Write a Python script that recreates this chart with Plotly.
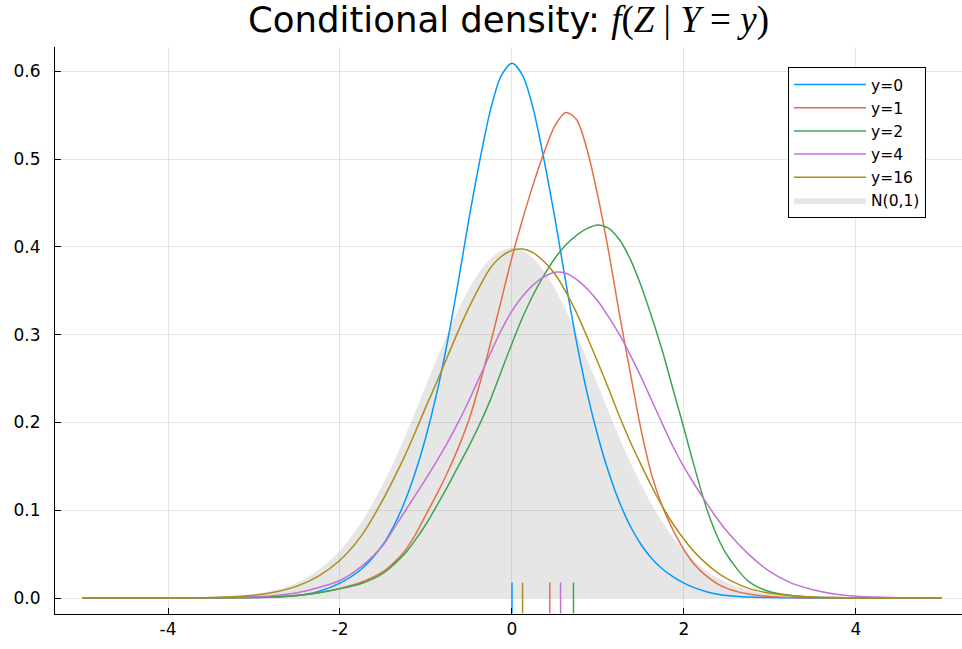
import plotly.graph_objects as go

# ---- data ----
z = [-5, -4.5, -4, -3.5, -3, -2.75, -2.5, -2.25, -2, -1.75,
     -1.5, -1.375, -1.25, -1.125, -1, -0.875, -0.75, -0.625, -0.5, -0.375,
     -0.25, -0.125, 0, 0.125, 0.25, 0.375, 0.5, 0.625, 0.75, 0.875,
     1, 1.125, 1.25, 1.375, 1.5, 1.625, 1.75, 1.875, 2, 2.125,
     2.25, 2.375, 2.5, 2.75, 3, 3.25, 3.5, 3.75, 4, 4.5, 5]

dens_y0 = [0, 0, 0.00002, 0.0001, 0.0005, 0.0011, 0.0028, 0.0075, 0.017, 0.033,
           0.061, 0.082, 0.109, 0.143, 0.184, 0.233, 0.292, 0.360, 0.432, 0.498,
           0.556, 0.595, 0.609, 0.595, 0.556, 0.498, 0.432, 0.360, 0.292, 0.233,
           0.184, 0.143, 0.109, 0.082, 0.061, 0.045, 0.033, 0.024, 0.017, 0.0115,
           0.0075, 0.0047, 0.0028, 0.0011, 0.0005, 0.0002, 0.0001, 0.00005, 0.00002, 0, 0]

dens_y1 = [0, 0, 0.00002, 0.0001, 0.0006, 0.0015, 0.003, 0.006, 0.011, 0.018,
           0.030, 0.040, 0.053, 0.072, 0.095, 0.118, 0.143, 0.171, 0.203, 0.244,
           0.290, 0.339, 0.388, 0.432, 0.472, 0.508, 0.538, 0.553, 0.545, 0.510,
           0.457, 0.394, 0.323, 0.257, 0.192, 0.140, 0.104, 0.077, 0.055, 0.038,
           0.026, 0.017, 0.011, 0.0045, 0.0018, 0.0007, 0.0003, 0.0001, 0.00003, 0, 0]

dens_y2 = [0, 0, 0.00002, 0.0001, 0.0006, 0.0014, 0.003, 0.006, 0.0105, 0.0165,
           0.028, 0.038, 0.050, 0.066, 0.084, 0.105, 0.127, 0.150, 0.173, 0.198,
           0.226, 0.258, 0.290, 0.320, 0.346, 0.368, 0.387, 0.402, 0.413, 0.421,
           0.425, 0.421, 0.408, 0.386, 0.356, 0.320, 0.281, 0.237, 0.193, 0.148,
           0.106, 0.073, 0.049, 0.019, 0.0072, 0.003, 0.0012, 0.0005, 0.0002, 0.00002, 0]

dens_y4 = [0, 0.00002, 0.0001, 0.0003, 0.0015, 0.003, 0.006, 0.012, 0.020, 0.036,
           0.060, 0.079, 0.098, 0.117, 0.136, 0.156, 0.177, 0.200, 0.225, 0.252,
           0.279, 0.305, 0.327, 0.344, 0.357, 0.366, 0.371, 0.370, 0.363, 0.352,
           0.338, 0.320, 0.300, 0.277, 0.252, 0.225, 0.198, 0.172, 0.149, 0.129,
           0.110, 0.092, 0.076, 0.050, 0.030, 0.017, 0.0095, 0.0045, 0.0019, 0.0004, 0.0001]

dens_y16 = [0, 0.00002, 0.0001, 0.0007, 0.0032, 0.0068, 0.0135, 0.025, 0.043, 0.071,
            0.112, 0.136, 0.161, 0.189, 0.218, 0.246, 0.275, 0.304, 0.331, 0.355,
            0.376, 0.389, 0.396, 0.3975, 0.393, 0.383, 0.369, 0.349, 0.325, 0.297,
            0.268, 0.238, 0.207, 0.178, 0.152, 0.127, 0.104, 0.084, 0.067, 0.052,
            0.040, 0.030, 0.022, 0.011, 0.0055, 0.0027, 0.0012, 0.0005, 0.0002, 0.00003, 0]

std_normal = [0, 0.000016, 0.000134, 0.00087, 0.0044, 0.0091, 0.0175, 0.0317, 0.054, 0.0863,
              0.1295, 0.1549, 0.1826, 0.2119, 0.2420, 0.2717, 0.3011, 0.3281, 0.3521, 0.3718,
              0.3867, 0.3958, 0.3989, 0.3958, 0.3867, 0.3718, 0.3521, 0.3281, 0.3011, 0.2717,
              0.2420, 0.2119, 0.1826, 0.1549, 0.1295, 0.1065, 0.0863, 0.0687, 0.054, 0.0417,
              0.0317, 0.0238, 0.0175, 0.0091, 0.0044, 0.002, 0.00087, 0.00035, 0.000134, 0.000016, 0]

series_names = ["y=0", "y=1", "y=2", "y=4", "y=16"]
rug_means = [0.0, 0.44, 0.715, 0.565, 0.123]
fill_name = "N(0,1)"

x_tickvals = [-4, -2, 0, 2, 4]
x_ticktext = ["-4", "-2", "0", "2", "4"]
y_tickvals = [0.0, 0.1, 0.2, 0.3, 0.4, 0.5, 0.6]

colors = ["#009AFA", "#E36F47", "#3EA44E", "#C371D2", "#AC8E18"]

# ---- figure ----
fig = go.Figure()

fig.add_trace(go.Scatter(
    x=z, y=std_normal, name=fill_name, mode="lines",
    line=dict(width=0, shape="spline", smoothing=0.8), fill="tozeroy",
    fillcolor="rgba(128,128,128,0.2)", legendrank=2000, hoverinfo="skip"))

for name, ys, col in zip(series_names,
                         [dens_y0, dens_y1, dens_y2, dens_y4, dens_y16], colors):
    fig.add_trace(go.Scatter(
        x=z, y=ys, name=name, mode="lines",
        line=dict(color=col, width=1.5, shape="spline", smoothing=0.8)))

for m, col in zip(rug_means, colors):
    fig.add_trace(go.Scatter(
        x=[m], y=[0], mode="markers", showlegend=False, hoverinfo="skip",
        marker=dict(symbol="line-ns", size=22, color=col,
                    line=dict(color=col, width=1.5))))

font_main = "DejaVu Sans"
title_html = ("Conditional density: "
              "<span style=\"font-family:'Liberation Serif';font-size:37px\">"
              "<i>f</i>(<i>Z</i> | <i>Y</i> = <i>y</i>)</span>")

fig.update_layout(
    width=962, height=649,
    margin=dict(l=55, r=0, t=47, b=35),
    paper_bgcolor="white", plot_bgcolor="white",
    font=dict(family=font_main, color="black", size=16),
    title=dict(text=title_html, x=0.5, xref="paper", xanchor="center",
               y=1 - 20 / 649, yref="container", yanchor="middle",
               font=dict(family=font_main, size=35.5, color="black")),
    legend=dict(x=(788 - 55) / 907, y=(614 - 67) / 567, xanchor="left", yanchor="top",
                bgcolor="white", bordercolor="black", borderwidth=1,
                font=dict(family=font_main, size=15.5, color="black"),
                itemwidth=72, tracegroupgap=0),
    showlegend=True,
)

fig.update_xaxes(
    range=[-5.314, 5.233], tickvals=x_tickvals, ticktext=x_ticktext,
    showgrid=True, gridcolor="rgba(0,0,0,0.1)", gridwidth=1, automargin=False,
    zeroline=False, showline=True, linecolor="black", linewidth=1,
    ticks="inside", ticklen=6, tickcolor="black", tickwidth=1,
    tickfont=dict(family=font_main, size=17, color="black"))

fig.update_yaxes(
    range=[-0.0182, 0.6276], tickvals=y_tickvals, tickformat=".1f",
    showgrid=True, gridcolor="rgba(0,0,0,0.1)", gridwidth=1, automargin=False,
    zeroline=False, showline=True, linecolor="black", linewidth=1,
    ticks="inside", ticklen=6, tickcolor="black", tickwidth=1,
    ticklabelstandoff=10,
    tickfont=dict(family=font_main, size=17, color="black"))

fig.write_html(
    "out.html",
    config={"displayModeBar": False},
    post_script="document.body.style.margin='0';document.body.style.overflow='hidden';")
